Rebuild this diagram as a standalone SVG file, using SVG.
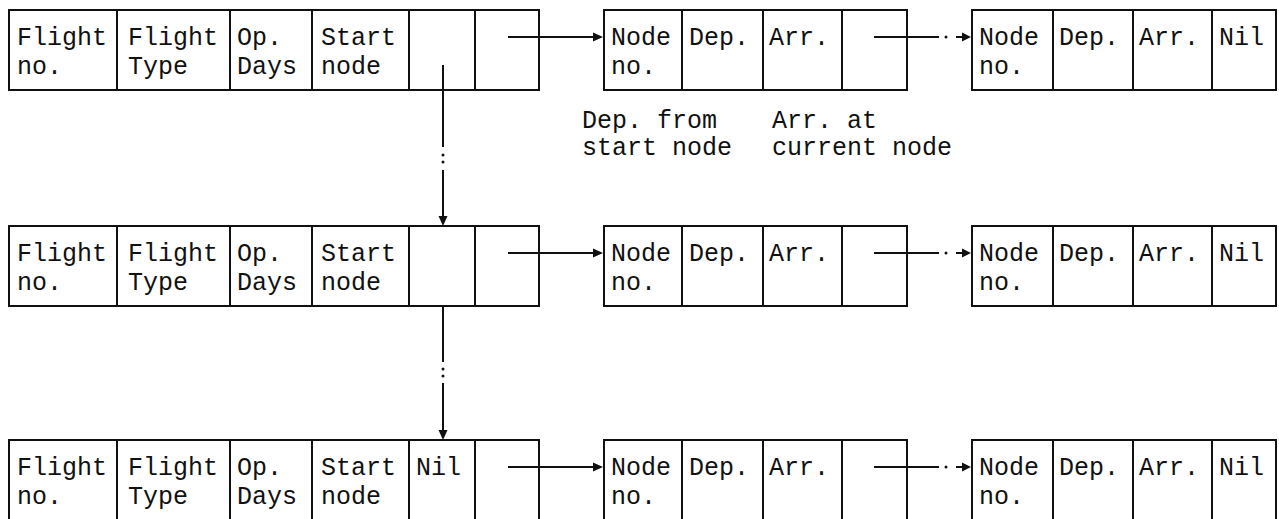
<svg xmlns="http://www.w3.org/2000/svg" width="1279" height="519" viewBox="0 0 1279 519">
<style>
.c{fill:#fff;stroke:#111;stroke-width:2}
.t{font-family:"Liberation Mono","DejaVu Sans Mono",monospace;font-size:25px;fill:#111}
.ln{stroke:#111;stroke-width:2;fill:none}
.ah{fill:#111}
.dt{fill:#111}
</style>
<rect width="1279" height="519" fill="#fff"/>
<defs>
<g id="flightCells">
<rect class="c" x="9" y="0" width="108" height="80"/>
<rect class="c" x="117" y="0" width="113" height="80"/>
<rect class="c" x="230" y="0" width="82" height="80"/>
<rect class="c" x="312" y="0" width="97" height="80"/>
<rect class="c" x="409" y="0" width="66" height="80"/>
<rect class="c" x="475" y="0" width="64" height="80"/>
<text class="t" x="17" y="35">Flight</text>
<text class="t" x="17" y="64">no.</text>
<text class="t" x="128" y="35">Flight</text>
<text class="t" x="128" y="64">Type</text>
<text class="t" x="237" y="35">Op.</text>
<text class="t" x="237" y="64">Days</text>
<text class="t" x="321" y="35">Start</text>
<text class="t" x="321" y="64">node</text>
</g>
<g id="chain1">
<rect class="c" x="604" y="0" width="78" height="80"/>
<rect class="c" x="682" y="0" width="81" height="80"/>
<rect class="c" x="763" y="0" width="79" height="80"/>
<rect class="c" x="842" y="0" width="65" height="80"/>
<text class="t" x="611" y="35">Node</text>
<text class="t" x="611" y="64">no.</text>
<text class="t" x="689" y="35">Dep.</text>
<text class="t" x="769" y="35">Arr.</text>
</g>
<g id="chain2">
<rect class="c" x="972" y="0" width="81" height="80"/>
<rect class="c" x="1053" y="0" width="80" height="80"/>
<rect class="c" x="1133" y="0" width="79" height="80"/>
<rect class="c" x="1212" y="0" width="64" height="80"/>
<text class="t" x="979" y="35">Node</text>
<text class="t" x="979" y="64">no.</text>
<text class="t" x="1059" y="35">Dep.</text>
<text class="t" x="1139" y="35">Arr.</text>
<text class="t" x="1219" y="35">Nil</text>
</g>
<g id="hconn">
<line class="ln" x1="508" y1="27" x2="594" y2="27"/>
<polygon class="ah" points="603,27 593,22.5 593,31.5"/>
<line class="ln" x1="874" y1="27" x2="939" y2="27"/>
<circle class="dt" cx="946" cy="27" r="1.5"/>
<line class="ln" x1="956" y1="27" x2="963" y2="27"/>
<polygon class="ah" points="971,27 962,22.5 962,31.5"/>
</g>
</defs>

<g id="flight-record-1" transform="translate(0,10)"><use href="#flightCells"/></g>
<g id="node-list-1a" transform="translate(0,10)"><use href="#chain1"/></g>
<g id="node-list-1b" transform="translate(0,10)"><use href="#chain2"/></g>

<g id="flight-record-2" transform="translate(0,226)"><use href="#flightCells"/></g>
<g id="node-list-2a" transform="translate(0,226)"><use href="#chain1"/></g>
<g id="node-list-2b" transform="translate(0,226)"><use href="#chain2"/></g>

<g id="flight-record-3" transform="translate(0,440)"><use href="#flightCells"/><text class="t" x="416" y="35">Nil</text></g>
<g id="node-list-3a" transform="translate(0,440)"><use href="#chain1"/></g>
<g id="node-list-3b" transform="translate(0,440)"><use href="#chain2"/></g>

<g id="annotations">
<text class="t" x="582" y="128">Dep. from</text>
<text class="t" x="582" y="155">start node</text>
<text class="t" x="772" y="128">Arr. at</text>
<text class="t" x="772" y="155">current node</text>
</g>

<g id="connectors">
<g transform="translate(0,10)"><use href="#hconn"/></g>
<g transform="translate(0,226)"><use href="#hconn"/></g>
<g transform="translate(0,440)"><use href="#hconn"/></g>
<line class="ln" x1="443" y1="65" x2="443" y2="147"/>
<circle class="dt" cx="443" cy="155" r="1.5"/>
<circle class="dt" cx="443" cy="162" r="1.5"/>
<line class="ln" x1="443" y1="170" x2="443" y2="217"/>
<polygon class="ah" points="443,226 438.5,216 447.5,216"/>
<line class="ln" x1="443" y1="306" x2="443" y2="362"/>
<circle class="dt" cx="443" cy="369" r="1.5"/>
<circle class="dt" cx="443" cy="376" r="1.5"/>
<line class="ln" x1="443" y1="383" x2="443" y2="431"/>
<polygon class="ah" points="443,440 438.5,430 447.5,430"/>
</g>
</svg>
